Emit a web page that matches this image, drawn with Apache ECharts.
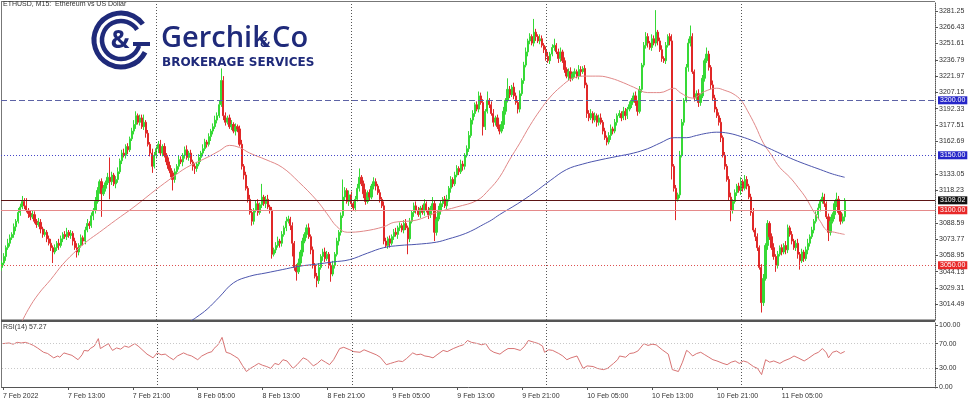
<!DOCTYPE html>
<html><head><meta charset="utf-8">
<script src="https://cdn.jsdelivr.net/npm/echarts@6/dist/echarts.min.js"></script>
<style>html,body{margin:0;padding:0;background:#fff;}#c{width:973px;height:404px;}</style>
</head><body><div id="c"></div><script>
// ---- data ----
const startTime = Date.UTC(2022, 1, 7, 5, 0);   // first bar: 7 Feb 2022 05:00, M15
const slotCount = 460;                           // bars + empty right shift
const firstOpen = 3048;
const closes = [
3052,3058,3066,3070,3075,3078,3085,3090,3098,3103,3108,3104,3100,3097,3094,3096,
3090,3087,3089,3083,3078,3080,3074,3070,3066,3062,3066,3070,3068,3074,3078,3076,
3080,3077,3079,3072,3066,3062,3068,3075,3072,3082,3088,3086,3095,3100,3108,3118,
3126,3115,3120,3125,3130,3126,3132,3124,3128,3135,3145,3152,3150,3158,3155,3165,
3172,3178,3186,3180,3184,3176,3180,3170,3160,3152,3140,3150,3156,3160,3152,3158,
3150,3144,3138,3134,3128,3135,3140,3146,3144,3150,3155,3148,3152,3144,3140,3138,
3142,3148,3152,3156,3162,3160,3167,3172,3176,3182,3186,3196,3218,3186,3180,3184,
3176,3178,3172,3176,3174,3160,3140,3132,3120,3110,3098,3090,3100,3106,3098,3105,
3112,3106,3110,3103,3100,3060,3064,3068,3072,3070,3078,3084,3090,3092,3086,3070,
3048,3044,3052,3062,3072,3078,3084,3076,3064,3050,3040,3036,3048,3058,3062,3056,
3060,3050,3042,3050,3060,3072,3080,3095,3112,3118,3108,3114,3106,3102,3110,3120,
3130,3124,3115,3108,3116,3112,3122,3126,3122,3116,3110,3104,3072,3068,3074,3070,
3076,3080,3078,3084,3086,3082,3088,3084,3074,3090,3098,3104,3100,3096,3102,3098,
3106,3100,3096,3102,3106,3080,3092,3100,3106,3110,3104,3110,3120,3128,3124,3132,
3138,3135,3142,3140,3150,3156,3168,3182,3188,3196,3192,3204,3198,3176,3190,3200,
3196,3188,3180,3184,3176,3172,3178,3190,3200,3210,3205,3212,3204,3198,3192,3206,
3218,3232,3244,3254,3258,3252,3262,3258,3254,3256,3250,3246,3240,3236,3242,3248,
3250,3244,3238,3244,3236,3228,3222,3226,3220,3224,3226,3222,3228,3226,3229,3214,
3188,3184,3188,3182,3186,3180,3184,3180,3172,3166,3162,3168,3174,3172,3180,3186,
3188,3184,3190,3186,3192,3196,3200,3204,3198,3190,3210,3232,3250,3258,3252,3248,
3256,3252,3262,3254,3246,3238,3236,3250,3258,3254,3140,3120,3110,3114,3150,3180,
3200,3230,3252,3258,3226,3202,3206,3198,3204,3220,3236,3242,3230,3214,3202,3192,
3186,3180,3166,3150,3140,3128,3112,3100,3108,3116,3122,3118,3126,3120,3128,3122,
3112,3098,3082,3076,3066,3048,3016,3038,3068,3088,3076,3066,3058,3050,3060,3066,
3062,3068,3064,3084,3078,3072,3066,3070,3060,3054,3062,3056,3064,3070,3076,3082,
3090,3096,3102,3108,3112,3106,3094,3080,3090,3096,3106,3110,3098,3090,3094,3109.02
];
const wickUp = [
2,3,2,4,3,2,3,2,4,3,5,3,7,2,3,4,
3,2,4,3,2,3,2,3,4,2,3,2,4,3,2,3,
4,2,3,2,3,4,2,3,2,3,4,2,3,2,4,3,
2,3,3,2,4,18,3,2,3,4,2,3,4,2,3,2,
3,4,4,2,3,3,7,2,3,2,4,3,2,3,4,2,
3,2,4,3,2,3,2,4,3,2,3,4,2,3,2,3,
2,3,2,4,3,2,3,2,3,4,3,4,11,4,3,2,
3,4,2,3,2,3,4,2,3,2,4,3,2,3,4,2,
12,2,3,4,2,3,2,3,4,2,3,2,4,3,2,3,
2,3,4,2,3,2,3,4,2,3,2,3,4,2,3,4,
3,2,3,4,2,3,2,3,16,3,2,4,3,2,3,4,
8,2,3,4,2,3,2,4,3,2,3,2,4,3,2,3,
2,3,4,2,3,2,3,4,2,3,2,3,4,3,2,3,
4,2,3,2,6,3,2,4,3,2,3,4,2,3,2,3,
3,2,4,3,2,3,4,2,3,2,3,4,3,3,2,8,
2,3,4,2,3,2,3,4,2,10,3,2,4,3,2,3,
2,3,4,2,3,2,12,3,2,4,3,2,3,4,2,3,
6,2,3,4,2,3,2,3,4,2,3,2,4,3,2,3,
2,3,4,2,3,2,3,4,2,3,2,3,4,2,3,2,
3,2,4,3,2,3,2,3,4,2,3,2,3,4,3,2,
4,3,20,2,3,4,2,3,2,3,6,2,3,2,4,3,
2,3,4,10,3,2,3,4,2,3,2,6,3,2,4,3,
2,3,4,2,3,2,3,4,2,3,2,3,4,2,4,3,
2,3,4,2,3,2,3,4,2,3,2,3,4,2,3,2,
3,2,4,3,2,3,2,3,4,2,3,2,3,4,2,3,
2,3,4,2,4,3,2,3,4,2,3,6,3,2,3,2
];
const wickDown = [
3,2,4,2,3,2,3,4,2,3,2,3,2,4,3,2,
2,3,2,4,3,2,3,2,3,10,2,3,4,2,3,2,
3,2,3,4,2,5,3,2,4,3,2,3,2,4,3,2,
3,21,2,3,2,16,3,2,4,3,2,3,2,3,4,2,
2,3,4,2,3,2,3,4,2,3,6,2,3,4,2,3,
2,3,2,4,10,3,2,3,2,4,3,2,3,2,4,5,
3,2,4,3,2,3,2,4,3,2,3,2,2,4,3,2,
2,3,2,4,3,2,3,4,2,3,2,4,3,2,3,2,
3,2,4,2,3,4,2,3,2,4,3,2,3,2,4,12,
3,8,2,3,4,2,3,2,4,3,2,6,3,2,4,3,
2,3,7,2,3,2,4,3,2,3,2,4,3,2,3,2,
3,2,4,3,2,3,2,3,4,2,3,2,3,2,3,4,
2,3,2,4,3,2,3,2,14,3,2,4,3,2,3,2,
3,2,4,3,2,8,3,2,4,3,2,3,2,4,3,2,
2,3,2,4,3,2,3,2,4,3,2,3,2,8,3,2,
3,2,4,3,2,3,2,4,3,2,3,2,3,2,4,3,
2,3,2,4,3,2,3,4,2,3,2,3,4,2,3,2,
3,2,4,3,2,3,2,4,3,2,3,2,3,4,2,3,
4,3,2,3,2,4,3,2,3,2,3,2,4,3,2,3,
2,3,2,4,3,2,3,2,3,4,2,3,2,3,4,2,
3,2,3,4,2,3,2,3,2,4,12,3,19,2,3,2,
3,2,4,3,2,3,2,4,3,2,3,2,3,4,2,3,
2,3,4,2,3,2,3,10,3,2,3,2,4,3,2,3,
2,3,2,4,3,2,9,3,2,4,3,2,3,6,3,2,
3,2,4,3,2,3,2,3,4,8,2,3,2,4,3,2,
3,2,4,3,2,3,2,8,3,2,4,3,2,3,2,4
];
// moving averages: [bar index, price]
const redMA = [[8,2992],[13,3010],[18,3024],[24,3037],[30,3051],[37,3064],[42,3072],[48,3080],[56,3091],[65,3103],[76,3119],[84,3130],[91,3139],[101,3148],[107,3154],[112,3159],[117,3157],[122,3152],[130,3146],[138,3139],[146,3126],[155,3109],[160,3097],[165,3085],[170,3080],[178,3081],[188,3085],[193,3089],[204,3091],[214,3098],[224,3103],[234,3109],[240,3119],[245,3130],[250,3146],[255,3161],[260,3177],[265,3191],[270,3203],[275,3212],[281,3220],[288,3222],[294,3222],[300,3220],[306,3216],[311,3212],[318,3207],[324,3207],[331,3211],[334,3207],[340,3202],[346,3208],[352,3211],[356,3209],[360,3206],[364,3200],[367,3191],[371,3177],[375,3161],[379,3150],[383,3139],[388,3130],[392,3121],[396,3111],[400,3098],[403,3090],[406,3082],[410,3080],[415,3078]];
const blueMA = [[92,2998],[96,3003],[101,3010],[107,3021],[114,3034],[122,3040],[130,3043],[138,3046],[146,3049],[155,3051],[163,3053],[171,3055],[180,3061],[188,3066],[196,3068],[204,3069],[214,3071],[220,3074],[227,3078],[232,3082],[237,3087],[241,3091],[245,3096],[254,3106],[262,3116],[270,3127],[278,3137],[286,3142],[295,3146],[303,3149],[311,3152],[318,3156],[324,3161],[331,3166],[337,3166],[342,3168],[347,3170],[352,3171],[358,3170],[364,3167],[370,3163],[377,3157],[384,3151],[390,3146],[397,3141],[403,3137],[409,3133],[415,3130]];
const rsiValues = [[0,70],[3,71],[5,69],[7,72],[9,71],[11,72],[13,70],[15,67],[17,63],[20,56],[22,54],[25,47],[27,50],[28,48],[30,55],[32,53],[34,51],[37,44],[39,52],[40,59],[42,58],[43,62],[45,66],[47,78],[48,62],[50,66],[52,70],[53,64],[54,59],[56,63],[58,61],[60,66],[62,64],[65,70],[67,65],[69,59],[71,53],[74,47],[76,55],[78,52],[80,53],[82,48],[84,44],[86,50],[89,55],[91,52],[93,50],[96,44],[98,50],[101,55],[103,57],[104,62],[106,68],[108,80],[110,56],[112,54],[114,50],[116,46],[118,35],[120,25],[122,30],[124,34],[126,38],[128,35],[130,33],[132,30],[134,38],[136,36],[138,44],[140,42],[143,30],[145,36],[148,47],[150,44],[153,34],[155,38],[157,44],[159,40],[161,36],[163,44],[166,62],[168,64],[171,60],[173,57],[176,56],[178,60],[181,56],[184,52],[186,48],[189,36],[191,38],[193,40],[195,42],[197,41],[199,46],[202,55],[204,52],[206,53],[208,50],[210,49],[212,47],[214,52],[217,59],[219,57],[222,62],[225,66],[227,68],[229,75],[231,72],[234,70],[236,68],[238,70],[240,60],[242,56],[245,53],[247,58],[249,62],[252,62],[255,59],[257,65],[259,75],[262,72],[264,70],[266,66],[267,56],[269,60],[271,59],[274,54],[276,50],[278,44],[280,47],[283,50],[286,30],[288,34],[291,33],[293,30],[296,28],[298,30],[301,38],[303,44],[304,50],[307,48],[309,54],[311,55],[313,58],[316,70],[318,67],[320,69],[322,68],[325,60],[328,53],[330,28],[333,25],[335,40],[337,59],[338,57],[340,50],[342,54],[344,56],[346,52],[348,48],[350,44],[352,42],[355,38],[357,36],[359,40],[361,42],[363,38],[365,42],[367,40],[370,33],[372,30],[374,20],[376,44],[378,40],[380,42],[383,38],[385,42],[388,46],[390,50],[392,47],[395,42],[397,46],[400,53],[402,56],[404,62],[406,55],[407,47],[409,56],[411,58],[413,54],[415,57.27]];
const priceTickLabels = [3014.49,3029.31,3044.13,3058.95,3073.77,3088.59,3118.23,3133.05,3162.69,3177.51,3192.33,3207.15,3221.97,3236.79,3251.61,3266.43,3281.25];
const rsiTickLabels = [0,30,70,100];
const timeTickLabels = ['7 Feb 2022','7 Feb 13:00','7 Feb 21:00','8 Feb 05:00','8 Feb 13:00','8 Feb 21:00','9 Feb 05:00','9 Feb 13:00','9 Feb 21:00','10 Feb 05:00','10 Feb 13:00','10 Feb 21:00','11 Feb 05:00'];
const daySeparatorBars = [76,172,268,364];
const levels = [
  {value:3200, text:'3200.00', kind:'dashBlue'},
  {value:3150, text:'3150.00', kind:'dotBlue'},
  {value:3109.02, text:'3109.02', kind:'bid'},
  {value:3100, text:'3100.00', kind:'solidRed'},
  {value:3050, text:'3050.00', kind:'dotRed'}
];
const rsiLevels = [70,30];

// ---- build ----
const pad = n => (n < 10 ? '0' : '') + n;
const categories = [];
for (let i = 0; i < slotCount; i++) {
  const d = new Date(startTime + i * 900000);
  categories.push(d.getUTCFullYear() + '-' + pad(d.getUTCMonth()+1) + '-' + pad(d.getUTCDate()) + ' ' + pad(d.getUTCHours()) + ':' + pad(d.getUTCMinutes()));
}
const candles = closes.map((c, i) => {
  const o = i === 0 ? firstOpen : closes[i-1];
  return [o, c, Math.min(o, c) - wickDown[i], Math.max(o, c) + wickUp[i]];
});
const levelStyle = {
  dashBlue: {line:{color:'#5d63a6', type:[6,3], width:1}, bg:'#2626c8'},
  dotBlue: {line:{color:'#4646c8', type:[1,2], width:1}, bg:'#2626c8'},
  bid: {line:{color:'#5c1414', type:'solid', width:1}, bg:'#111111'},
  solidRed: {line:{color:'#e58a8a', type:'solid', width:1}, bg:'#e82828'},
  dotRed: {line:{color:'#dd5050', type:[1,2], width:1}, bg:'#e82828'}
};
const sepStyle = {color:'#555', type:[1,2], width:1};
const labelFont = 'Liberation Sans';
const fs = 7;

const chart = echarts.init(document.getElementById('c'), null, {renderer:'canvas', width:973, height:404});
const navy = '#1f2a7a';
chart.setOption({
  animation: false,
  backgroundColor: '#ffffff',
  textStyle: {fontFamily: labelFont},
  grid: [
    {left: 1, top: 2, width: 934, height: 318},
    {left: 1, top: 322, width: 934, height: 66}
  ],
  xAxis: [
    {type:'category', gridIndex:0, data:categories, boundaryGap:true,
     axisLine:{show:false}, axisTick:{show:false}, axisLabel:{show:false}, splitLine:{show:false}},
    {type:'category', gridIndex:1, data:categories, boundaryGap:true,
     axisLine:{show:true, lineStyle:{color:'#555', width:1}},
     axisTick:{show:true, alignWithLabel:true, length:3, lineStyle:{color:'#555'},
       interval:(i) => i % 32 === 0 && i <= 384},
     axisLabel:{show:true, interval:(i) => i % 32 === 0 && i <= 384, hideOverlap:false,
       formatter:(v, i) => timeTickLabels[i/32] || '', align:'left', margin:5,
       fontSize:fs, color:'#333', fontFamily:labelFont},
     splitLine:{show:false}}
  ],
  yAxis: [
    {type:'value', gridIndex:0, position:'right', min:3000.2, max:3289.4, scale:true,
     axisLine:{show:true, lineStyle:{color:'#555', type:[1,1]}},
     axisTick:{show:true, length:3, customValues:priceTickLabels, lineStyle:{color:'#555'}},
     axisLabel:{show:true, customValues:priceTickLabels, formatter:(v) => v.toFixed(2),
       fontSize:fs, color:'#333', margin:4, fontFamily:labelFont},
     splitLine:{show:false}},
    {type:'value', gridIndex:1, position:'right', min:-1.6, max:104.8,
     axisLine:{show:true, lineStyle:{color:'#555', type:[1,1]}},
     axisTick:{show:true, length:3, customValues:rsiTickLabels, lineStyle:{color:'#555'}},
     axisLabel:{show:true, customValues:rsiTickLabels, formatter:(v) => v.toFixed(2),
       fontSize:fs, color:'#333', margin:4, fontFamily:labelFont},
     splitLine:{show:false}}
  ],
  series: [
    {type:'candlestick', xAxisIndex:0, yAxisIndex:0, data:candles, barWidth:1.7,
     itemStyle:{color:'#36d936', color0:'#e02828', borderColor:'#36d936', borderColor0:'#e02828', borderWidth:1},
     markLine:{silent:true, symbol:['none','none'], animation:false,
       data: levels.map(l => ({yAxis:l.value, lineStyle:levelStyle[l.kind].line,
         label:{show:true, position:'end', formatter:l.text, distance:3, color:'#fff',
           backgroundColor:levelStyle[l.kind].bg, padding:[1,2,0,2], fontSize:fs, fontFamily:labelFont}}))
         .concat(daySeparatorBars.map(b => ({xAxis:categories[b], lineStyle:sepStyle, label:{show:false}})))
     }},
    {type:'line', xAxisIndex:0, yAxisIndex:0, data:redMA, smooth:0.4, showSymbol:false, clip:true,
     lineStyle:{color:'#e08888', width:1}, z:3},
    {type:'line', xAxisIndex:0, yAxisIndex:0, data:blueMA, smooth:0.4, showSymbol:false, clip:true,
     lineStyle:{color:'#4c55ad', width:1}, z:3},
    {type:'line', xAxisIndex:1, yAxisIndex:1, data:rsiValues, showSymbol:false, clip:true,
     lineStyle:{color:'#d87474', width:1},
     markLine:{silent:true, symbol:['none','none'], animation:false, label:{show:false},
       data: rsiLevels.map(v => ({yAxis:v, lineStyle:{color:'#c8c8c8', type:[1,2], width:1}}))
         .concat(daySeparatorBars.map(b => ({xAxis:categories[b], lineStyle:sepStyle})))}}
  ],
  graphic: [
    {type:'line', shape:{x1:1.5, y1:1, x2:1.5, y2:388}, style:{stroke:'#777', lineWidth:1}, silent:true},
    {type:'line', shape:{x1:1, y1:1.5, x2:935, y2:1.5}, style:{stroke:'#777', lineWidth:1}, silent:true},
    {type:'rect', shape:{x:1, y:319.5, width:934, height:2.5}, style:{fill:'#555'}, silent:true},
    {type:'text', left:3, top:1, silent:true,
     style:{text:'ETHUSD, M15:  Ethereum vs US Dollar', font:'7px "Liberation Sans"', fill:'#333'}},
    {type:'text', left:3, top:324, silent:true,
     style:{text:'RSI(14) 57.27', font:'7px "Liberation Sans"', fill:'#333'}},
    // logo mark
    {type:'arc', shape:{cx:121, cy:40, r:27, startAngle:Math.PI*0.15, endAngle:Math.PI*1.8, clockwise:true},
     style:{stroke:navy, lineWidth:5, fill:null}, silent:true},
    {type:'arc', shape:{cx:121, cy:40, r:19, startAngle:Math.PI*0.1, endAngle:Math.PI*1.82, clockwise:true},
     style:{stroke:navy, lineWidth:4.5, fill:null}, silent:true},
    {type:'line', shape:{x1:133, y1:44, x2:150, y2:44}, style:{stroke:navy, lineWidth:4}, silent:true},
    {type:'text', x:120, y:41, silent:true,
     style:{text:'&', font:'bold 25px "Open Sans"', fill:navy, align:'center', verticalAlign:'middle'}},
    {type:'text', x:161, y:53, silent:true,
     style:{text:'Gerchik', font:'600 29px "Open Sans"', fill:navy, align:'left', verticalAlign:'bottom'}},
    {type:'text', x:260, y:50, silent:true,
     style:{text:'&', font:'600 14px "Open Sans"', fill:navy, align:'left', verticalAlign:'bottom'}},
    {type:'text', x:272, y:53, silent:true,
     style:{text:'Co', font:'600 29px "Open Sans"', fill:navy, align:'left', verticalAlign:'bottom'}},
    {type:'text', x:162, y:63, silent:true,
     style:{text:'BROKERAGE SERVICES', font:'bold 12px "DejaVu Sans"', fill:navy, align:'left', verticalAlign:'middle'}}
  ]
});
</script></body></html>
